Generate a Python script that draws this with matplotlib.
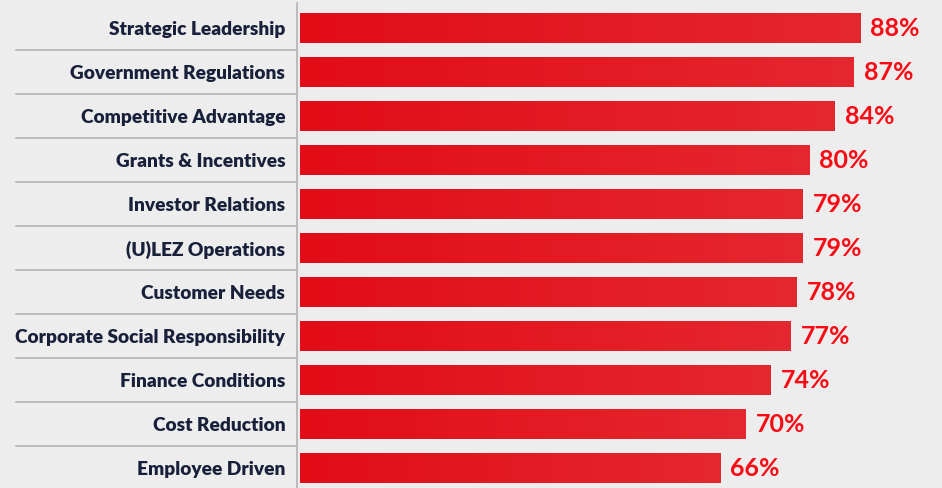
import matplotlib.pyplot as plt
import numpy as np
from matplotlib.colors import LinearSegmentedColormap
from matplotlib.transforms import blended_transform_factory

categories = ["Strategic Leadership", "Government Regulations", "Competitive Advantage",
              "Grants & Incentives", "Investor Relations", "(U)LEZ Operations",
              "Customer Needs", "Corporate Social Responsibility", "Finance Conditions",
              "Cost Reduction", "Employee Driven"]
values = [88, 87, 84, 80, 79, 79, 78, 77, 74, 70, 66]

BG = "#ededed"
LABEL = "#18203a"
VALUE = "#fa0a14"
grad = LinearSegmentedColormap.from_list("bar", ["#e20c17", "#e5272f"])

plt.rcParams['font.family'] = ['Lato', 'DejaVu Sans']

W, H = 942, 488
fig = plt.figure(figsize=(W / 100, H / 100), dpi=100, facecolor=BG)
left, right, top, bottom = 297, 942, 6, 490
ax = fig.add_axes([left / W, (H - bottom) / H, (right - left) / W, (bottom - top) / H])
ax.set_facecolor(BG)

y = np.arange(len(categories))
bar_h = 0.68
bars = ax.barh(y, values, height=bar_h, color="none", edgecolor="none")
ramp = np.linspace(0, 1, 256).reshape(1, -1)
for b, v, yi in zip(bars, values, y):
    im = ax.imshow(ramp, cmap=grad, aspect="auto", interpolation="bilinear",
                   extent=[0, v, yi + bar_h / 2, yi - bar_h / 2], zorder=2)
    im.set_clip_path(b)
    ax.text(v + 1.7, yi, f"{v}%", va="center", ha="left", fontsize=18,
            fontweight="bold", color=VALUE)

xmin = -0.4
ax.set_xlim(xmin, 100.95)
ax.set_ylim(len(categories) - 0.5, -0.5)

ax.set_yticks(y)
ax.set_yticklabels(categories, fontsize=13.8, fontweight="heavy", color=LABEL)
ax.tick_params(axis="y", length=0, pad=8.5)
ax.set_xticks([])
for s in ["top", "right", "bottom", "left"]:
    ax.spines[s].set_visible(False)

# vertical divider and row separators on the label side
ax.axvline(xmin, ymin=0, ymax=1.006, color="#b4b4b4", lw=1.2, clip_on=False)
tr = blended_transform_factory(ax.transAxes, ax.transData)
x0 = (16 - left) / (right - left)
for k in range(len(categories) - 1):
    ax.plot([x0, 0], [k + 0.5, k + 0.5], transform=tr, color="#b4b4b4",
            lw=1.2, clip_on=False)

fig.savefig("out.png", dpi=100, facecolor=BG)
